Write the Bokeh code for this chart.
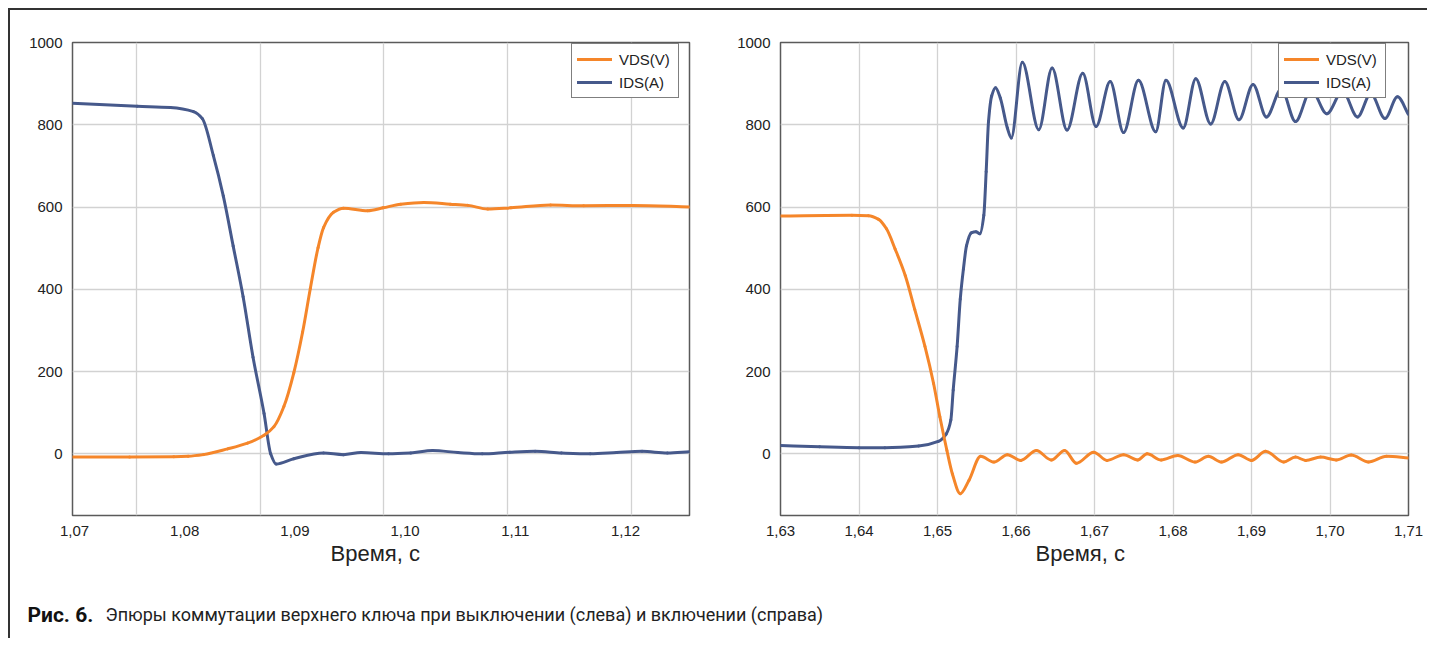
from bokeh.plotting import figure
from bokeh.models import (Range1d, FixedTicker, Legend, LegendItem, Label, Title,
                          ColumnDataSource, CustomJSTickFormatter)
from bokeh.layouts import column, row
from bokeh.embed import file_html
from bokeh.resources import INLINE

# ---------------- data ----------------
series_names = ["VDS(V)", "IDS(A)"]

# left chart: turn-off
left_t_vds = [1.0698, 1.0750, 1.0790, 1.0803, 1.0817, 1.0839, 1.0857, 1.0872, 1.0881,
              1.0890, 1.0899, 1.0907, 1.0914, 1.0921, 1.0926, 1.0935, 1.0944, 1.0966,
              1.0980, 1.0996, 1.1017, 1.1041, 1.1057, 1.1075, 1.1096, 1.1132, 1.1162,
              1.1207, 1.1258]
left_vds = [-8, -8, -7, -6, -2, 12, 26, 45, 66,
            115, 197, 296, 402, 501, 550, 587, 597, 591,
            598, 607, 611, 607, 604, 595, 598, 605, 603,
            604, 600]

left_t_ids = [1.0698, 1.0757, 1.0787, 1.0808, 1.0816, 1.0826, 1.0835, 1.0844, 1.0853,
              1.0862, 1.0872, 1.0878, 1.0883, 1.0899, 1.0926, 1.0944, 1.0960, 1.0985,
              1.1005, 1.1025, 1.1048, 1.1070, 1.1095, 1.1118, 1.1142, 1.1168, 1.1192,
              1.1215, 1.1238, 1.1258]
left_ids = [852, 845, 842, 832, 815, 725, 627, 505, 382,
            235, 98, 0, -25, -12, 2, -2, 3, 0,
            2, 8, 3, 0, 4, 6, 2, 0, 3,
            6, 2, 5]

# right chart: turn-on
right_t_vds = [1.6300, 1.6391, 1.6412, 1.6425, 1.6435, 1.6446, 1.6459, 1.6471, 1.6484,
               1.6495, 1.6503, 1.6512, 1.6519, 1.6529, 1.6540, 1.6555, 1.6572, 1.6589,
               1.6606, 1.6626, 1.6645, 1.6662, 1.6677, 1.6699, 1.6716, 1.6737, 1.6755,
               1.6767, 1.6785, 1.6806, 1.6828, 1.6845, 1.6862, 1.6883, 1.6900, 1.6918,
               1.6941, 1.6956, 1.6969, 1.6988, 1.7008, 1.7027, 1.7049, 1.7072, 1.7100]
right_vds = [578, 580, 579, 570, 547, 498, 433, 351, 261,
             171, 90, 8, -49, -97, -65, -6, -20, -2,
             -16, 8, -15, 8, -23, 4, -16, -2, -15,
             0, -15, -4, -20, -6, -20, -2, -16, 6,
             -20, -8, -16, -8, -15, -3, -20, -6, -10]

right_t_ids = [1.6300, 1.6350, 1.6400, 1.6433, 1.6476, 1.6501, 1.6511, 1.6517, 1.6520,
               1.6525, 1.6529, 1.6533, 1.6537, 1.6543, 1.6549, 1.6554, 1.6559, 1.6562,
               1.6565, 1.6569, 1.6574, 1.6580, 1.6589, 1.6594, 1.6608, 1.6629, 1.6646,
               1.6665, 1.6685, 1.6702, 1.6720, 1.6737, 1.6756, 1.6778, 1.6791, 1.6813,
               1.6829, 1.6848, 1.6866, 1.6884, 1.6902, 1.6919, 1.6938, 1.6956, 1.6976,
               1.6996, 1.7016, 1.7035, 1.7052, 1.7070, 1.7086, 1.7100]
right_ids = [20, 17, 15, 15, 19, 30, 48, 82, 155,
             261, 376, 449, 506, 537, 540, 535, 580, 686,
             808, 870, 890, 865, 792, 768, 952, 788, 938,
             787, 925, 796, 905, 781, 908, 783, 908, 792,
             912, 802, 905, 812, 898, 819, 887, 808, 885,
             827, 882, 819, 876, 815, 868, 825]

y_ticks = [0, 200, 400, 600, 800, 1000]
left_x_ticks = [1.07, 1.08, 1.09, 1.10, 1.11, 1.12]
left_grid_x = [1.0756, 1.0869, 1.0980, 1.1093, 1.1205]
right_x_ticks = [1.63, 1.64, 1.65, 1.66, 1.67, 1.68, 1.69, 1.70, 1.71]
x_title = "Время, с"
caption_bold = "Рис. 6."
caption_text = "Эпюры коммутации верхнего ключа при выключении (слева) и включении (справа)"

# ---------------- styling ----------------
ORANGE = "#F5862A"
BLUE = "#46598B"
FONT = "Liberation Sans"
TEXT = "#222222"


def pchip_bezier(xs, ys):
    """Smoothed-line rendering (like a spreadsheet 'smoothed line'): cubic
    Hermite segments through the given points, expressed as Bezier curves."""
    n = len(xs)
    h = [xs[i + 1] - xs[i] for i in range(n - 1)]
    d = [(ys[i + 1] - ys[i]) / h[i] for i in range(n - 1)]
    m = [0.0] * n
    m[0] = d[0]
    m[-1] = d[-1]
    for k in range(1, n - 1):
        if d[k - 1] * d[k] <= 0:
            m[k] = 0.0
        else:
            w1 = 2 * h[k] + h[k - 1]
            w2 = h[k] + 2 * h[k - 1]
            m[k] = (w1 + w2) / (w1 / d[k - 1] + w2 / d[k])
    src = dict(x0=[], y0=[], x1=[], y1=[], cx0=[], cy0=[], cx1=[], cy1=[])
    for i in range(n - 1):
        src["x0"].append(xs[i]); src["y0"].append(ys[i])
        src["x1"].append(xs[i + 1]); src["y1"].append(ys[i + 1])
        src["cx0"].append(xs[i] + h[i] / 3); src["cy0"].append(ys[i] + m[i] * h[i] / 3)
        src["cx1"].append(xs[i + 1] - h[i] / 3); src["cy1"].append(ys[i + 1] - m[i + 1] * h[i] / 3)
    return ColumnDataSource(src)


def make_panel(x_start, x_end, x_ticks, grid_x, t_vds, vds, t_ids, ids,
               frame_w, mb_left, mb_right, legend_xy, title_offset):
    p = figure(frame_width=frame_w, frame_height=473,
               x_range=Range1d(x_start, x_end), y_range=Range1d(-150, 1000),
               output_backend="svg", toolbar_location=None,
               min_border_left=mb_left, min_border_right=mb_right,
               min_border_top=32, min_border_bottom=64,
               background_fill_color="white", border_fill_color="white")
    p.outline_line_color = "#5a5a5a"
    p.outline_line_width = 1.5

    p.xaxis.ticker = FixedTicker(ticks=x_ticks)
    p.xaxis.formatter = CustomJSTickFormatter(code="return tick.toFixed(2).replace('.', ',');")
    p.yaxis.ticker = FixedTicker(ticks=y_ticks)
    for ax in (p.xaxis, p.yaxis):
        ax.axis_line_color = None
        ax.major_tick_line_color = None
        ax.minor_tick_line_color = None
        ax.major_tick_out = 0
        ax.major_tick_in = 0
        ax.major_label_standoff = 10
        ax.major_label_text_font = FONT
        ax.major_label_text_font_size = "15px"
        ax.major_label_text_color = TEXT

    p.xgrid.ticker = FixedTicker(ticks=grid_x)
    p.ygrid.ticker = FixedTicker(ticks=y_ticks)
    for g in (p.xgrid, p.ygrid):
        g.grid_line_color = "#d2d2d2"
        g.grid_line_width = 1.3

    r_ids = p.bezier("x0", "y0", "x1", "y1", "cx0", "cy0", "cx1", "cy1",
                     source=pchip_bezier(t_ids, ids), line_color=BLUE,
                     line_width=3, line_cap="round")
    r_vds = p.bezier("x0", "y0", "x1", "y1", "cx0", "cy0", "cx1", "cy1",
                     source=pchip_bezier(t_vds, vds), line_color=ORANGE,
                     line_width=3, line_cap="round")

    legend = Legend(items=[LegendItem(label=series_names[0], renderers=[r_vds], index=0),
                           LegendItem(label=series_names[1], renderers=[r_ids], index=0)],
                    location=legend_xy, orientation="vertical",
                    border_line_color="black", border_line_width=1,
                    background_fill_color="white", background_fill_alpha=1.0,
                    padding=5, spacing=3, margin=0,
                    glyph_width=35, glyph_height=20, label_height=20,
                    label_width=54, label_standoff=7,
                    label_text_font=FONT, label_text_font_size="15px",
                    label_text_color=TEXT)
    p.add_layout(legend, "center")

    title = Title(text=x_title, align="left", offset=title_offset,
                  text_font=FONT, text_font_size="22px", text_font_style="normal",
                  text_color=TEXT, standoff=1)
    p.add_layout(title, "below")
    return p


left = make_panel(1.069818, 1.125807, left_x_ticks, left_grid_x,
                  left_t_vds, left_vds, left_t_ids, left_ids,
                  frame_w=617, mb_left=62, mb_right=28, legend_xy=(499, 417),
                  title_offset=258)
right = make_panel(1.63, 1.71, right_x_ticks, right_x_ticks,
                   right_t_vds, right_vds, right_t_ids, right_ids,
                   frame_w=628, mb_left=63, mb_right=19, legend_xy=(498, 417),
                   title_offset=255)

cap = figure(width=1417, height=59, x_range=Range1d(0, 1417), y_range=Range1d(0, 59),
             output_backend="svg", toolbar_location=None, min_border=0)
cap.axis.visible = False
cap.grid.visible = False
cap.outline_line_color = None
cap.add_layout(Label(x=17, y=24, text=caption_bold, text_font="Roboto",
                     text_font_style="bold", text_font_size="21px", text_color="#111111",
                     text_baseline="middle"))
cap.add_layout(Label(x=95, y=24, text=caption_text, text_font="Roboto",
                     text_font_size="18px", text_color=TEXT, text_baseline="middle"))

page = column(row(left, right), cap,
              styles={"margin-left": "8px", "margin-top": "8px",
                      "border-left": "2px solid #333", "border-top": "2px solid #333"})

open("out.html", "w").write(file_html(page, INLINE))
